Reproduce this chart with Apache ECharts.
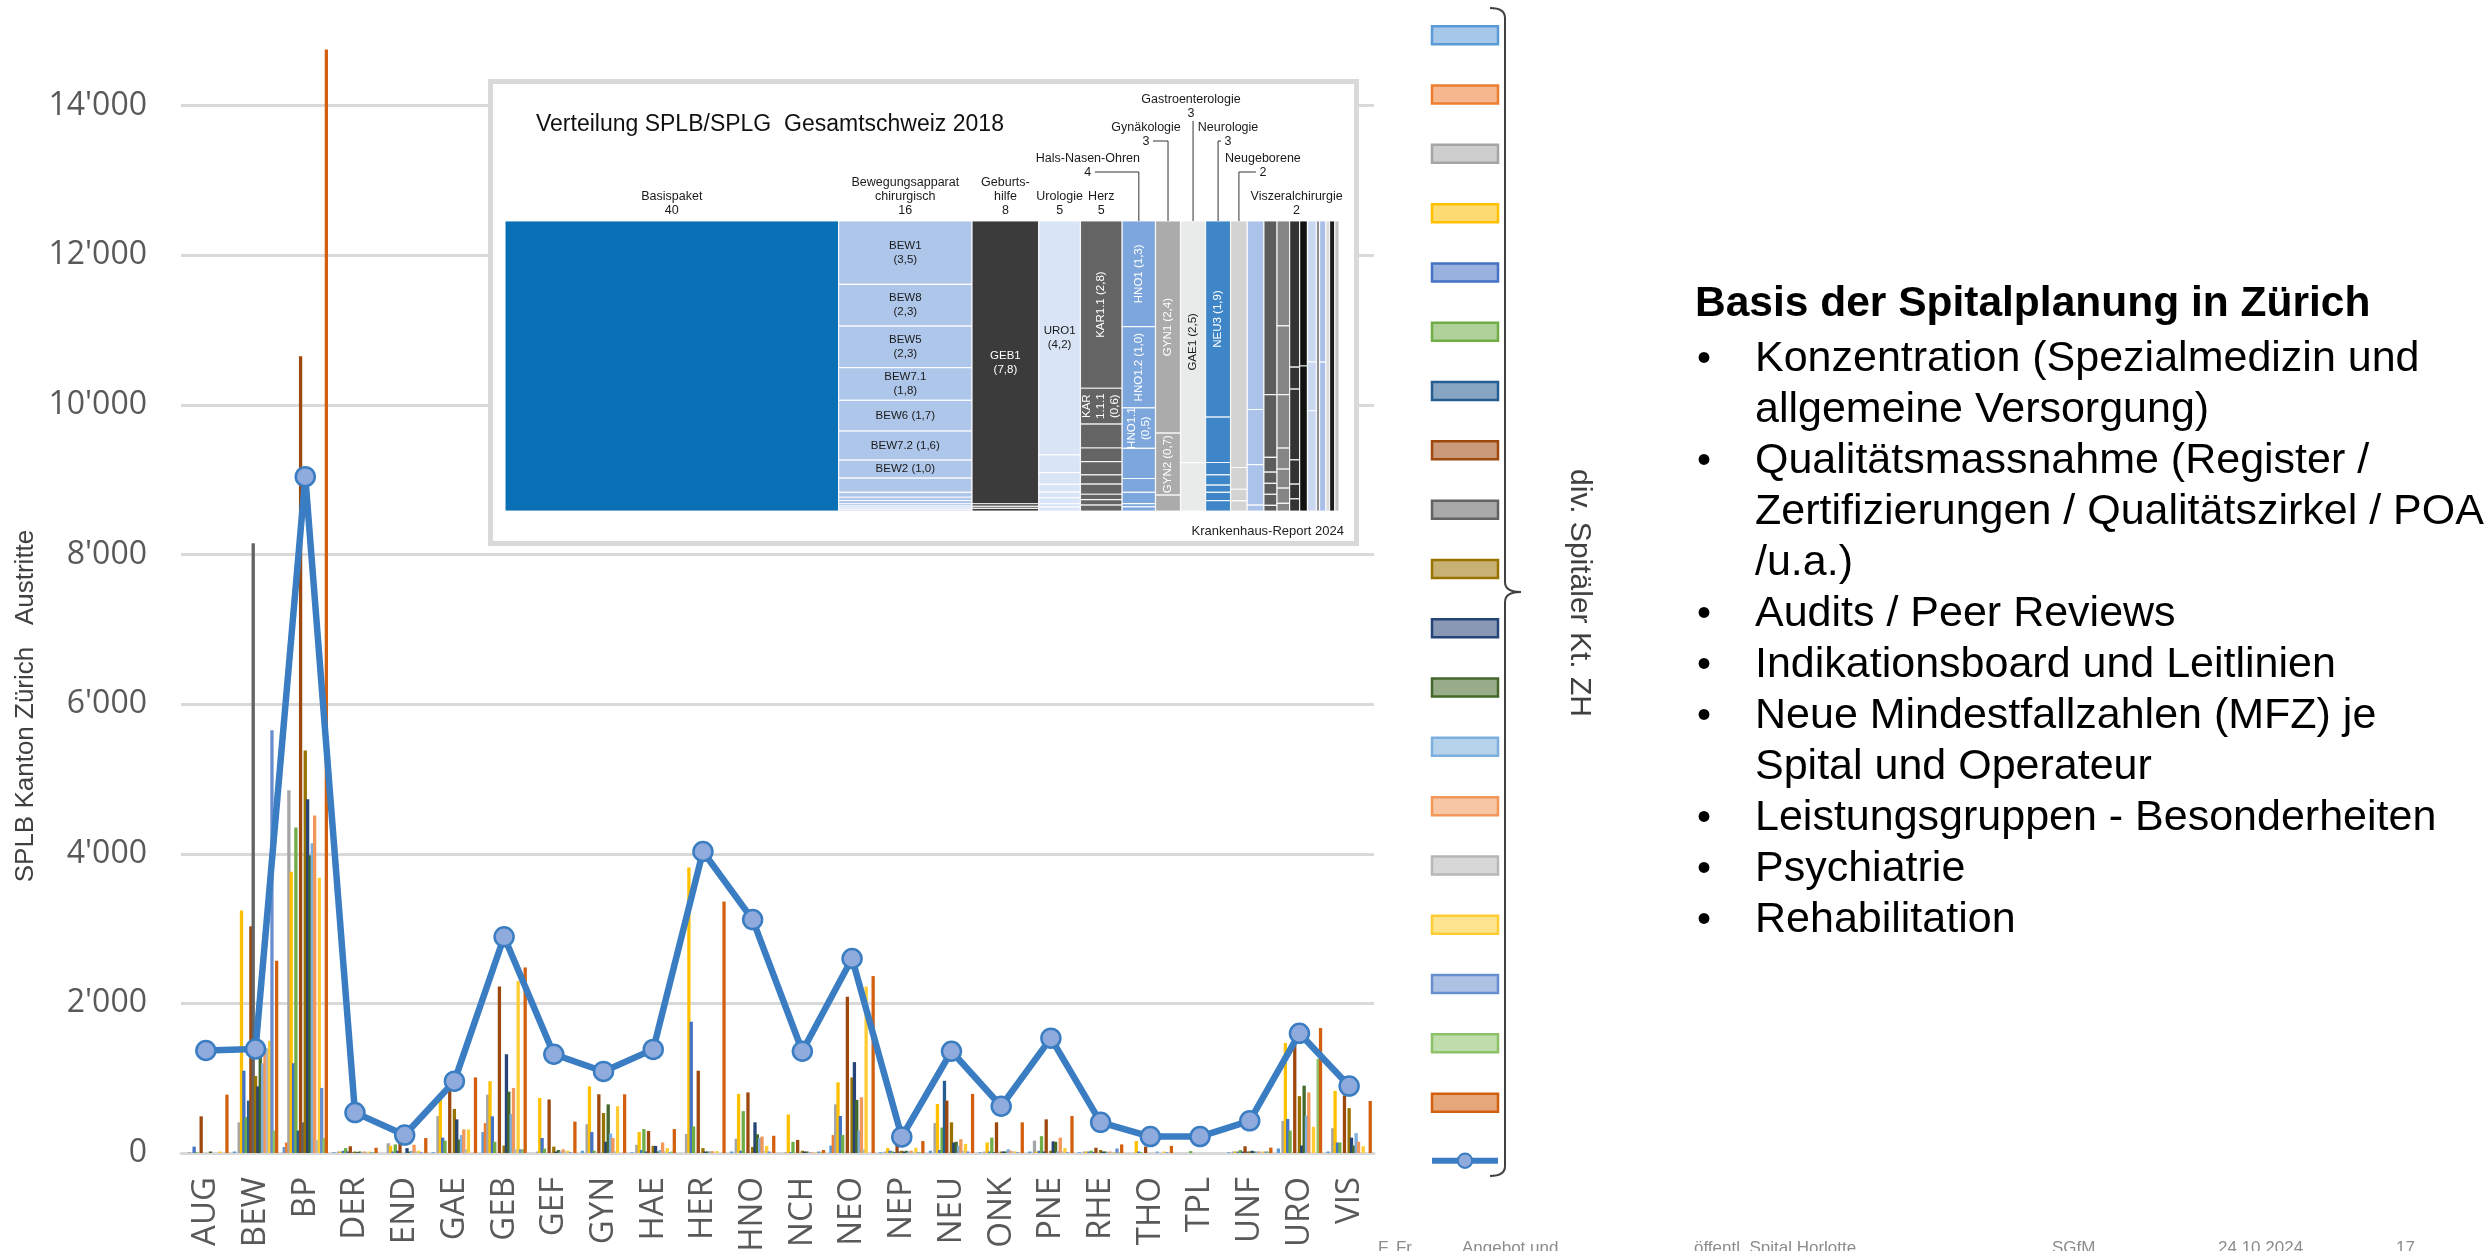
<!DOCTYPE html>
<html>
<head>
<meta charset="utf-8">
<script src="https://cdn.jsdelivr.net/npm/echarts@6/dist/echarts.min.js"></script>
<style>
  html, body { margin: 0; padding: 0; background: #ffffff; }
  #chart { width: 2484px; height: 1251px; }
</style>
</head>
<body>
<div id="chart"></div>
<script>
// ---- Leistungsbereiche (SPLB) ----
const categories = ['AUG','BEW','BP','DER','END','GAE','GEB','GEF','GYN','HAE','HER','HNO','NCH','NEO','NEP','NEU','ONK','PNE','RHE','THO','TPL','UNF','URO','VIS'];

// ---- Austritte je Spital im Kanton Zürich, pro SPLB ----
const spital01 = [0,20,80,10,0,10,280,0,30,10,0,20,0,100,10,30,10,20,10,0,0,10,60,20];
const spital02 = [0,0,140,0,0,0,400,0,0,0,0,0,0,240,0,0,0,0,0,0,0,0,0,0];
const spital03 = [10,410,4850,20,130,495,780,20,385,110,255,190,10,650,20,400,20,165,20,0,0,20,430,330];
const spital04 = [0,3240,3760,20,95,735,960,735,890,280,3815,790,515,945,65,655,140,20,20,160,0,20,1470,830];
const spital05 = [85,1100,1200,30,20,205,490,200,280,40,1755,30,10,495,30,40,20,30,20,20,0,20,455,140];
const spital06 = [10,480,4350,65,115,165,150,60,30,320,355,560,150,240,20,340,205,225,30,10,25,40,300,140];
const spital07 = [0,700,300,20,30,0,0,0,0,20,0,0,0,0,10,965,10,20,10,0,0,20,0,0];
const spital08 = [490,3030,10650,90,230,860,2225,715,785,295,1100,810,175,2090,120,700,410,450,70,85,0,90,1620,770];
const spital09 = [0,8150,410,10,0,0,0,0,0,0,0,0,0,0,20,0,0,0,0,0,0,20,0,0];
const spital10 = [0,1030,5380,20,0,590,100,85,535,95,65,80,30,1010,30,410,20,30,40,0,0,20,760,600];
const spital11 = [0,890,4730,10,65,450,1320,20,150,95,20,410,20,1215,20,140,20,155,20,0,0,30,100,205];
const spital12 = [20,1300,3980,20,20,180,820,40,650,20,20,250,20,710,30,150,20,150,20,0,0,20,900,100];
const spital13 = [0,1200,4140,10,30,240,520,20,260,40,20,200,10,300,20,100,50,20,10,20,0,20,500,265];
const spital14 = [0,1400,4510,20,110,315,870,50,200,140,25,220,10,745,30,185,30,205,20,0,0,20,810,150];
const spital15 = [0,1400,170,10,20,50,50,20,20,20,0,30,0,50,10,30,20,20,10,0,0,10,0,0];
const spital16 = [20,1500,3680,20,30,315,2300,30,625,65,25,95,10,2225,70,120,20,65,10,20,0,20,350,90];
const spital17 = [0,5650,870,10,10,0,50,10,0,10,0,20,20,0,10,20,10,10,60,10,0,20,0,0];
const spital18 = [0,300,200,10,0,0,50,0,0,20,0,0,10,0,10,0,0,0,10,0,0,20,1260,0];
const spital19 = [780,2570,14750,70,200,1010,2480,420,785,320,3360,230,40,2365,160,790,410,495,115,95,0,72,1670,695];

// ---- Total Kanton Zürich (Linie) ----
const totalZH = [1370,1390,9040,540,240,960,2890,1320,1090,1385,4030,3120,1360,2600,215,1360,625,1535,410,220,220,430,1600,895];

const hospitalValues = [spital01,spital02,spital03,spital04,spital05,spital06,spital07,spital08,spital09,spital10,
                        spital11,spital12,spital13,spital14,spital15,spital16,spital17,spital18,spital19];
const hospitalNames = hospitalValues.map((_, i) => 'Spital ' + (i + 1));
const totalName = 'Total Kanton Zürich';

// ---- Verteilung SPLB/SPLG Gesamtschweiz 2018 (Mosaik) ----
const mosaicNames  = ['Basispaket','Bewegungsapparat\nchirurgisch','Geburts-\nhilfe','Urologie','Herz','Hals-Nasen-Ohren',
                      'Gynäkologie','Gastroenterologie','Neurologie','Neugeborene','Viszeralchirurgie'];
const mosaicShares = [40,16,8,5,5,4,3,3,3,2,2,1.57,1.51,1.2,0.94,1.07,0.38,0.76,0.44,0.63,0.5];
const mosaicCells  = [
  [40],
  [3.5,2.3,2.3,1.8,1.7,1.6,1.0,0.78,0.27,0.18,0.18,0.13,0.11,0.09,0.07],
  [7.8,0.07,0.06,0.07],
  [4.2,0.32,0.21,0.14,0.1,0.11,0.06,0.07],
  [2.8,0.6,0.4,0.23,0.22,0.155,0.17,0.09,0.09,0.1],
  [1.3,1.0,0.5,0.37,0.17,0.14,0.04,0.05],
  [2.4,0.7,0.18],
  [2.5,0.5],
  [1.9,0.44,0.12,0.1,0.07,0.08,0.1],
  [1.7,0.15,0.08,0.07],
  [1.3,0.38,0.28,0.04],
  [0.94,0.34,0.08,0.06,0.06,0.06,0.03],
  [0.55,0.36,0.28,0.11,0.1,0.08,0.04],
  [0.6,0.09,0.29,0.1,0.06,0.05],
  [0.47,0.47],
  [0.52,0.18,0.37],
  [0.38],
  [0.37,0.39],
  [0.44],
  [0.63],
  [0.5]
];
const mosaicCellNames = [
  [],
  ['BEW1\n','BEW8\n','BEW5\n','BEW7.1\n','BEW6 ','BEW7.2 ','BEW2 '],
  ['GEB1\n'],
  ['URO1\n'],
  ['KAR1.1 ','KAR\n1.1.1\n'],
  ['HNO1 ','HNO1.2 ','HNO1.1\n'],
  ['GYN1 ','GYN2 '],
  ['GAE1 '],
  ['NEU3 ']
];

// ---- styles ----
const FONT = "'Liberation Sans', Arial, sans-serif";
const AXISFONT = "'Open Sans', 'Liberation Sans', sans-serif";
const barColors = ['#5B9BD5','#ED7D31','#A5A5A5','#FFC000','#4472C4','#70AD47','#255E91','#9E480E','#636363','#997300',
                   '#264478','#43682B','#7CAFDD','#F1975A','#B7B7B7','#FFCD33','#698ED0','#8CC168','#D2600F'];
const lineColor = '#3A7DC2';
const mosaicColors = ['#0A70B6','#AEC6E9','#3B3B3B','#D9E4F6','#646464','#7DA7DC','#ABABAB','#E9EAEA','#3E86C7','#D3D3D3',
                      '#ABC2EA','#5C5C5C','#858585','#333333','#111111','#C9D7F1','#8C8C8C','#A9BFE9','#DADADA','#1C1C1C','#C4C4C4'];
const mosaicLabelColor = ['#fff','#1a1a1a','#fff','#1a1a1a','#fff','#fff','#fff','#1a1a1a','#fff'];
const mosaicVertical   = [false,false,false,false,true,true,true,true,true];
// header placement: horizontal offset from column centre, lift of the number line above the plot, leader line
const headerDx     = [0,0,0,0,0,-51,-22,-2,10,24,41];
const headerLift   = [11,11,11,11,11,49,80,108,80,49,11];
const headerLeader = [0,0,0,0,0,1,1,1,1,1,0];

function lighten(hex, t) {
  const n = parseInt(hex.slice(1), 16);
  const r = (n >> 16) & 255, g = (n >> 8) & 255, b = n & 255;
  const m = v => Math.round(v + (255 - v) * t);
  return 'rgb(' + m(r) + ',' + m(g) + ',' + m(b) + ')';
}
const fmtThousands = v => String(v).replace(/\B(?=(\d{3})+(?!\d))/g, "'");
const fmtComma = v => v.toFixed(1).replace('.', ',');

function renderMosaic(params, api) {
  const c = api.value(0);
  let start = 0;
  for (let i = 0; i < c; i++) start += mosaicShares[i];
  const end = start + mosaicShares[c];
  const cells = mosaicCells[c];
  const sum = cells.reduce((a, b) => a + b, 0);
  const names = mosaicCellNames[c] || [];
  const children = [];
  let acc = 0;
  cells.forEach((w, j) => {
    const tl = api.coord([start, 1 - acc / sum]);
    const br = api.coord([end, 1 - (acc + w) / sum]);
    acc += w;
    children.push({
      type: 'rect',
      shape: { x: tl[0], y: tl[1], width: br[0] - tl[0], height: br[1] - tl[1] },
      style: { fill: mosaicColors[c], stroke: 'rgba(255,255,255,0.85)', lineWidth: 1.2 }
    });
    if (names[j]) {
      children.push({
        type: 'text', x: (tl[0] + br[0]) / 2, y: (tl[1] + br[1]) / 2,
        rotation: mosaicVertical[c] ? Math.PI / 2 : 0, z2: 20,
        style: { text: names[j] + '(' + fmtComma(w) + ')', fill: mosaicLabelColor[c], font: '11.5px ' + FONT,
                 align: 'center', verticalAlign: 'middle', lineHeight: 14 }
      });
    }
  });
  const head = mosaicNames[c];
  if (head) {
    const p0 = api.coord([start, 1]);
    const p1 = api.coord([end, 1]);
    const top = p0[1];
    const colX = (p0[0] + p1[0]) / 2;
    const tx = colX + headerDx[c];
    const lineY = top - headerLift[c];
    children.push({
      type: 'text', x: tx, y: lineY + 7, z2: 20,
      style: { text: head + '\n' + String(mosaicShares[c]), fill: '#1a1a1a', font: '12.5px ' + FONT,
               align: 'center', verticalAlign: 'bottom', lineHeight: 13.7 }
    });
    if (headerLeader[c]) {
      let pts;
      if (Math.abs(colX - tx) < 6) {
        pts = [[colX, lineY + 8], [colX, top]];
      } else {
        const sign = colX > tx ? 1 : -1;
        pts = [[tx + sign * 7, lineY], [colX, lineY], [colX, top]];
      }
      children.push({ type: 'polyline', shape: { points: pts }, style: { stroke: '#333', lineWidth: 1, fill: null } });
    }
  }
  return { type: 'group', children };
}

const chart = echarts.init(document.getElementById('chart'));

const barSeries = hospitalValues.map((d, i) => ({
  name: hospitalNames[i], type: 'bar', data: d, xAxisIndex: 0, yAxisIndex: 0,
  barWidth: 3.3, barGap: '-29%', itemStyle: { color: barColors[i] }
}));

const bulletItems = [
  ['Konzentration (Spezialmedizin und', 'allgemeine Versorgung)'],
  ['Qualitätsmassnahme (Register /', 'Zertifizierungen / Qualitätszirkel / POA', '/u.a.)'],
  ['Audits / Peer Reviews'],
  ['Indikationsboard und Leitlinien'],
  ['Neue Mindestfallzahlen (MFZ) je', 'Spital und Operateur'],
  ['Leistungsgruppen - Besonderheiten'],
  ['Psychiatrie'],
  ['Rehabilitation']
];
const textStyle = (text, font, fill, align, vAlign) =>
  ({ text, font, fill, align, verticalAlign: vAlign, textAlign: align, textVerticalAlign: vAlign });

const infoGraphics = [];
let lineIdx = 0;
bulletItems.forEach(item => {
  item.forEach((txt, k) => {
    const y = 359.6 + lineIdx * 51;
    if (k === 0) {
      infoGraphics.push({ type: 'text', x: 1697, y: y, style: textStyle('•', '40px ' + FONT, '#000', 'left', 'middle') });
    }
    infoGraphics.push({ type: 'text', x: 1755, y: y, style: textStyle(txt, '43px ' + FONT, '#000', 'left', 'middle') });
    lineIdx++;
  });
});

const footerParts = [
  [1378, 'F. Fr.'], [1462, 'Angebot und'], [1694, 'öffentl. Spital Horlotte'],
  [2052, 'SGfM'], [2218, '24.10.2024'], [2396, '17']
];

// curly brace next to the legend
const braceStyle = { stroke: '#404040', lineWidth: 2, fill: null };
const braceGraphics = [
  { type: 'bezierCurve', shape: { x1: 1490, y1: 8, x2: 1505, y2: 18, cpx1: 1505, cpy1: 8 }, style: braceStyle },
  { type: 'line', shape: { x1: 1505, y1: 18, x2: 1505, y2: 582 }, style: braceStyle },
  { type: 'bezierCurve', shape: { x1: 1505, y1: 582, x2: 1521, y2: 592, cpx1: 1505, cpy1: 592 }, style: braceStyle },
  { type: 'bezierCurve', shape: { x1: 1521, y1: 592, x2: 1505, y2: 602, cpx1: 1505, cpy1: 592 }, style: braceStyle },
  { type: 'line', shape: { x1: 1505, y1: 602, x2: 1505, y2: 1166 }, style: braceStyle },
  { type: 'bezierCurve', shape: { x1: 1505, y1: 1166, x2: 1490, y2: 1176, cpx1: 1505, cpy1: 1176 }, style: braceStyle }
];

chart.setOption({
  animation: false,
  backgroundColor: '#ffffff',
  grid: [
    { left: 181, top: -44, width: 1193, height: 1197, outerBoundsMode: 'none', containLabel: false },
    { left: 505, top: 221, width: 834, height: 290, outerBoundsMode: 'none', containLabel: false }
  ],
  xAxis: [
    { gridIndex: 0, type: 'category', data: categories,
      axisLine: { show: true, lineStyle: { color: '#D9D9D9', width: 3 } },
      axisTick: { show: false },
      axisLabel: { rotate: 90, margin: 24, interval: 0, fontFamily: AXISFONT, fontSize: 33, color: '#595959' } },
    { gridIndex: 1, type: 'value', min: 0, max: 100,
      axisLine: { show: true, onZero: false, lineStyle: { color: '#222', width: 1.2 } },
      axisTick: { show: false }, axisLabel: { show: false }, splitLine: { show: false } }
  ],
  yAxis: [
    { gridIndex: 0, type: 'value', min: 0, max: 16000, interval: 2000,
      axisLine: { show: false }, axisTick: { show: false },
      axisLabel: { formatter: v => fmtThousands(v), fontFamily: AXISFONT, fontSize: 32, color: '#595959', margin: 34 },
      splitLine: { lineStyle: { color: '#D9D9D9', width: 3 } } },
    { gridIndex: 1, type: 'value', min: 0, max: 1, show: false }
  ],
  legend: {
    orient: 'vertical', left: 1424, top: 20, itemWidth: 66, itemHeight: 18, itemGap: 38.8,
    selectedMode: false, formatter: () => '', textStyle: { fontSize: 10 },
    data: hospitalNames.map((n, i) => ({
      name: n, icon: 'rect',
      itemStyle: { color: lighten(barColors[i], 0.45), borderColor: barColors[i], borderWidth: 2.5 }
    })).concat([{ name: totalName, lineStyle: { width: 6, color: lineColor },
                  itemStyle: { color: '#8FAADC', borderColor: lineColor, borderWidth: 2 } }])
  },
  series: barSeries.concat([
    { name: totalName, type: 'line', data: totalZH, xAxisIndex: 0, yAxisIndex: 0, z: 5,
      symbol: 'circle', symbolSize: 19,
      lineStyle: { width: 6.5, color: lineColor },
      itemStyle: { color: '#8FAADC', borderColor: lineColor, borderWidth: 2.5 } },
    { name: 'Verteilung', type: 'custom', xAxisIndex: 1, yAxisIndex: 1, z: 10, silent: true,
      data: mosaicShares.map((_, i) => [i, 0]), renderItem: renderMosaic }
  ]),
  graphic: [
    // inset frame
    { type: 'rect', z: 5, shape: { x: 490.5, y: 81.5, width: 866, height: 462 },
      style: { fill: '#ffffff', stroke: '#D9D9D9', lineWidth: 5 } },
    { type: 'text', z: 11, x: 536, y: 125,
      style: textStyle('Verteilung SPLB/SPLG  Gesamtschweiz 2018', '23px ' + FONT, '#111', 'left', 'middle') },
    { type: 'text', z: 11, x: 1344, y: 531,
      style: textStyle('Krankenhaus-Report 2024', '13px ' + FONT, '#222', 'right', 'middle') },
    // y-axis title
    { type: 'text', x: 26, y: 706, rotation: Math.PI / 2,
      style: textStyle('SPLB Kanton Zürich   Austritte', '26px ' + FONT, '#404040', 'center', 'middle') },
    { type: 'text', x: 1579, y: 593, rotation: -Math.PI / 2,
      style: textStyle('div. Spitäler Kt. ZH', '30px ' + FONT, '#404040', 'center', 'middle') },
    // info block
    { type: 'text', x: 1695, y: 304,
      style: textStyle('Basis der Spitalplanung in Zürich', 'bold 42.5px ' + FONT, '#000', 'left', 'middle') }
  ].concat(braceGraphics).concat(infoGraphics).concat(footerParts.map(p => ({
    type: 'text', x: p[0], y: 1240,
    style: textStyle(p[1], '17px ' + FONT, '#8C8C8C', 'left', 'top')
  })))
});
</script>
</body>
</html>
